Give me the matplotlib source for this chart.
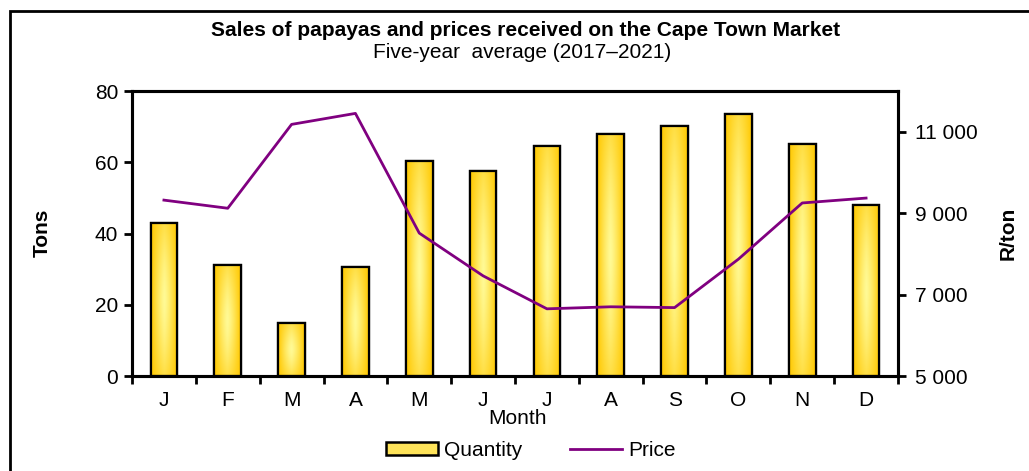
import numpy as np
import matplotlib.pyplot as plt
from matplotlib.patches import Rectangle, Patch
from matplotlib.lines import Line2D
from matplotlib.colors import LinearSegmentedColormap

plt.rcParams['font.family'] = ['Liberation Sans', 'DejaVu Sans']

# --- Données (moyenne 2017-2021) ---
months = ["J", "F", "M", "A", "M", "J", "J", "A", "S", "O", "N", "D"]
quantity = [42.9, 31.2, 15.0, 30.5, 60.3, 57.5, 64.5, 67.8, 70.1, 73.5, 65.0, 47.9]
price = [9320, 9120, 11180, 11450, 8510, 7460, 6650, 6700, 6680, 7870, 9250, 9370]

title = "Sales of papayas and prices received on the Cape Town Market"
subtitle = "Five-year  average (2017\u20132021)"

W, H = 1029, 471
fig = plt.figure(figsize=(W / 100, H / 100), dpi=100)

# cadre extérieur
fig.patches.append(Rectangle((10 / W, -0.1), 1.2, (H - 11) / H + 0.1,
                             transform=fig.transFigure, fill=False,
                             edgecolor="black", linewidth=2))

ax = fig.add_axes([132 / W, 1 - 376 / H, (898 - 132) / W, (376 - 91) / H])
ax2 = ax.twinx()

x = np.arange(len(months))
bar_w = 0.42

# dégradé doré -> jaune clair au centre
cmap = LinearSegmentedColormap.from_list("gold", ["#FFC800", "#FFFA96"])
u = np.linspace(-1, 1, 60)
v = np.linspace(-1, 1, 200)
U, V = np.meshgrid(u, v)
grad = (1 - np.abs(U) ** 1.3) * (1 - 0.55 * np.abs(V) ** 1.5)

bars = ax.bar(x, quantity, width=bar_w, color="#FFD42A", edgecolor="black",
              linewidth=1.6, zorder=2)
for b in bars:
    bx, by = b.get_x(), b.get_y()
    bw, bh = b.get_width(), b.get_height()
    im = ax.imshow(grad, cmap=cmap, extent=[bx, bx + bw, by, by + bh],
                   aspect="auto", origin="lower", zorder=2.5, vmin=0, vmax=1)
    im.set_clip_path(b)
    ax.add_patch(Rectangle((bx, by), bw, bh, fill=False, edgecolor="black",
                           linewidth=1.6, zorder=3))

ax2.plot(x, price, color="#800080", linewidth=2, zorder=4)

ax.set_xlim(-0.5, len(months) - 0.5)
ax.set_ylim(0, 80)
ax.set_yticks([0, 20, 40, 60, 80])
ax2.set_ylim(5000, 12000)
ax2.set_yticks([5000, 7000, 9000, 11000])
ax2.set_yticklabels(["5 000", "7 000", "9 000", "11 000"])

ax.set_xticks(x)
ax.set_xticklabels(months)
ax.set_xticks(np.arange(-0.5, len(months)), minor=True)
ax.tick_params(axis="x", which="major", length=0, labelsize=15, pad=11)
ax.tick_params(axis="x", which="minor", length=6, width=2, direction="out")
ax.tick_params(axis="y", length=6, width=2, direction="out", labelsize=15, pad=4)
ax2.tick_params(axis="y", length=6, width=2, direction="out", labelsize=15, pad=6)

for a in (ax, ax2):
    for s in a.spines.values():
        s.set_linewidth(2.2)

ax.set_zorder(ax2.get_zorder() - 1)
ax.patch.set_visible(False)

# titres et libellés d'axes
fig.text(526 / W, 1 - 30 / H, title, ha="center", va="center",
         fontsize=15, fontweight="bold")
fig.text(522 / W, 1 - 52 / H, subtitle, ha="center", va="center", fontsize=15)
fig.text(42 / W, 1 - 233 / H, "Tons", rotation=90, ha="center", va="center",
         fontsize=15, fontweight="bold")
fig.text(1008 / W, 1 - 233 / H, "R/ton", rotation=90, ha="center", va="center",
         fontsize=15, fontweight="bold")
fig.text(517 / W, 1 - 419 / H, "Month", ha="center", va="center", fontsize=15)

handles = [Patch(facecolor="#FFE45A", edgecolor="black", linewidth=1.8),
           Line2D([0], [0], color="#800080", linewidth=2)]
fig.legend(handles, ["Quantity", "Price"], loc="center",
           bbox_to_anchor=(531 / W, 1 - 450 / H), ncol=2, frameon=False,
           fontsize=15, handlelength=2.5, handleheight=0.6,
           columnspacing=2.3, handletextpad=0.3)

fig.savefig("out.png", dpi=100)
